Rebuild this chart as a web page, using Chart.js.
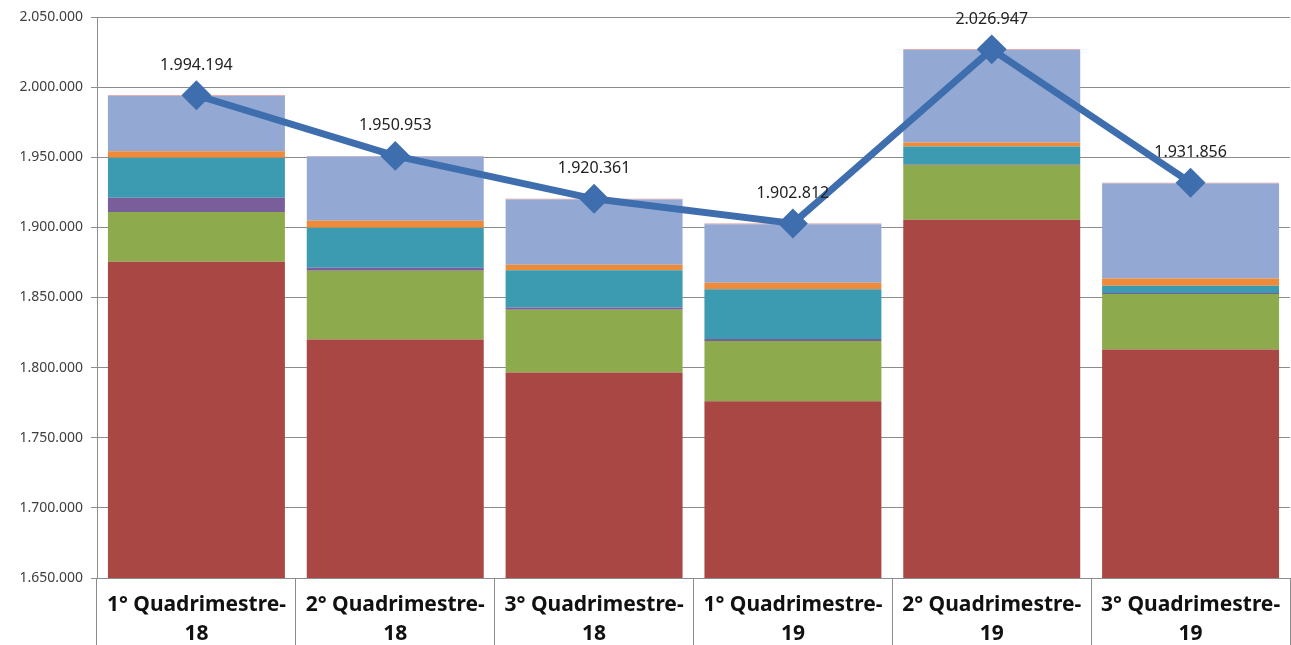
<!DOCTYPE html>
<html>
<head>
<meta charset="utf-8">
<script src="https://cdn.jsdelivr.net/npm/chart.js@4.4.1/dist/chart.umd.min.js"></script>
<style>
html,body{margin:0;padding:0;background:#fff;overflow:hidden}
canvas{display:block}
</style>
</head>
<body>
<canvas id="grafico" width="1291" height="645"></canvas>
<script>
let quadrimestres=[["1° Quadrimestre-","18"],["2° Quadrimestre-","18"],["3° Quadrimestre-","18"],["1° Quadrimestre-","19"],["2° Quadrimestre-","19"],["3° Quadrimestre-","19"]]

let serieVermelha=[1875500,1820000,1796500,1776000,1905500,1813000]
let serieVerde=[35500,49000,44800,43000,39000,39500]
let serieRoxa=[10200,2300,1600,1400,300,700]
let serieAzulPetroleo=[28500,28500,26600,35500,12800,5200]
let serieLaranja=[4500,5000,3800,4700,3000,5200]
let serieAzulClaro=[39494,45653,46561,41712,65847,67756]
let serieRosa=[500,500,500,500,500,500]
let totais=[1994194,1950953,1920361,1902812,2026947,1931856]

let yMin=1650000
let yMax=2050000
let yPasso=50000

function formatar(n){
return n.toString().replace(/\B(?=(\d{3})+(?!\d))/g,".")
}

let rotulosLinha={
id:"rotulosLinha",
afterDatasetsDraw(chart){
let ctx=chart.ctx
let meta=chart.getDatasetMeta(0)
ctx.save()
ctx.font="16px 'Noto Sans'"
ctx.fillStyle="#222"
ctx.textAlign="center"
ctx.textBaseline="middle"
meta.data.forEach((p,i)=>{
ctx.fillText(formatar(totais[i]),p.x,p.y-30)
})
ctx.restore()
}
}

function barra(dados,cor){
return {type:"bar",data:dados,backgroundColor:cor,borderWidth:0,order:1,stack:"gastos",
categoryPercentage:1,barPercentage:0.89}
}

new Chart(document.getElementById("grafico"),{
data:{
labels:quadrimestres,
datasets:[
{type:"line",label:"Total",data:totais,borderColor:"#3F6EAF",backgroundColor:"#3F6EAF",
borderWidth:7,pointStyle:"rectRot",pointRadius:10,pointHoverRadius:10,order:0,stack:"linha",tension:0},
barra(serieVermelha,"#A84744"),
barra(serieVerde,"#8DAA4D"),
barra(serieRoxa,"#7A5E9C"),
barra(serieAzulPetroleo,"#3C9AB1"),
barra(serieLaranja,"#EE8A38"),
barra(serieAzulClaro,"#93A9D3"),
barra(serieRosa,"#E49090")
]
},
options:{
responsive:false,
animation:false,
layout:{autoPadding:false,padding:{top:17,right:1,left:0,bottom:0}},
plugins:{legend:{display:false},tooltip:{enabled:false}},
scales:{
x:{
stacked:true,
grid:{offset:true,drawOnChartArea:false,tickLength:67,color:"#8c8c8c"},
border:{color:"#8c8c8c"},
ticks:{padding:-54,color:"#111",font:{family:"'Noto Sans'",size:21,weight:"bold",lineHeight:1.38},maxRotation:0,autoSkip:false},
afterFit(s){s.height=67;s.paddingLeft=0;s.paddingRight=0}
},
y:{
stacked:true,
min:yMin,
max:yMax,
grid:{color:"#8c8c8c",tickLength:6},
border:{color:"#8c8c8c"},
ticks:{stepSize:yPasso,padding:8,color:"#404040",font:{family:"'Noto Sans'",size:14},
callback:v=>formatar(v)},
afterFit(s){s.width=97}
}
}
},
plugins:[rotulosLinha]
})
</script>
</body>
</html>
